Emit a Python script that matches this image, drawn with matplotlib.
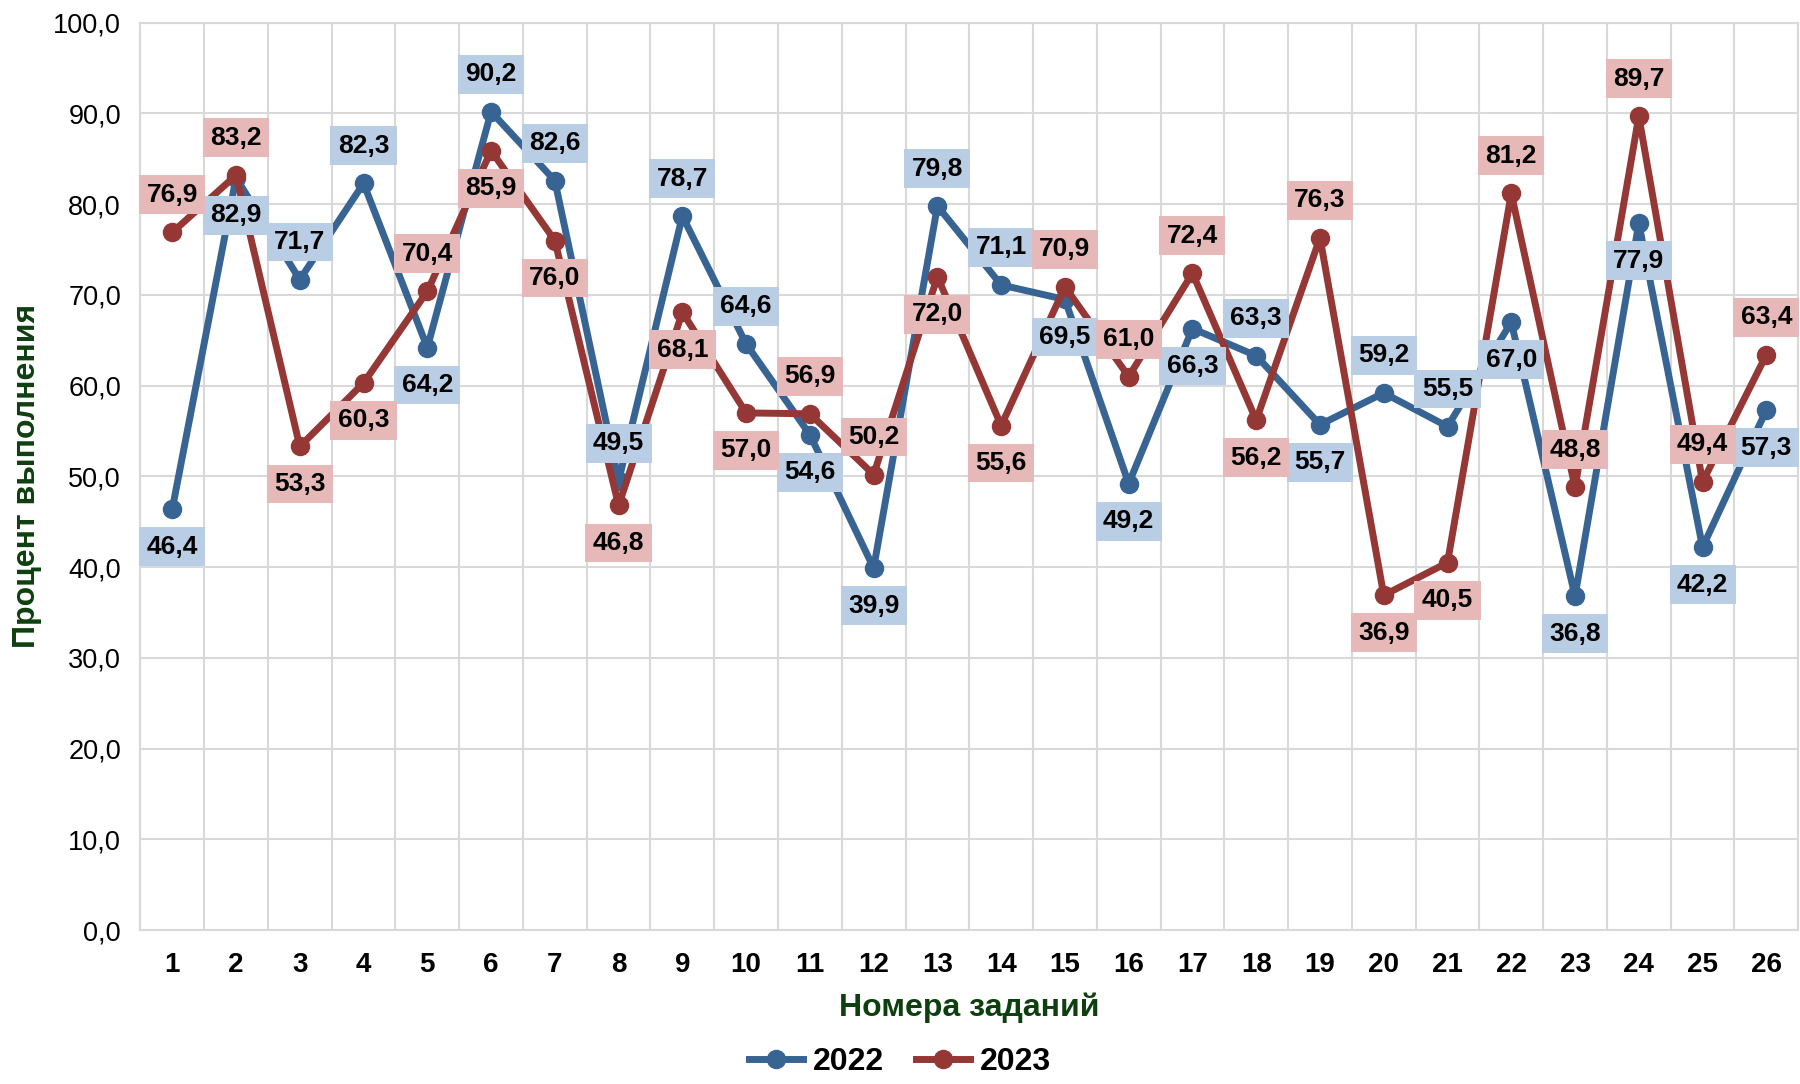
import matplotlib.pyplot as plt
import numpy as np

plt.rcParams['font.family'] = ['Liberation Sans', 'DejaVu Sans']

tasks = list(range(1, 27))
y2022 = [46.4, 82.9, 71.7, 82.3, 64.2, 90.2, 82.6, 49.5, 78.7, 64.6, 54.6, 39.9, 79.8,
         71.1, 69.5, 49.2, 66.3, 63.3, 55.7, 59.2, 55.5, 67.0, 36.8, 77.9, 42.2, 57.3]
y2023 = [76.9, 83.2, 53.3, 60.3, 70.4, 85.9, 76.0, 46.8, 68.1, 57.0, 56.9, 50.2, 72.0,
         55.6, 70.9, 61.0, 72.4, 56.2, 76.3, 36.9, 40.5, 81.2, 48.8, 89.7, 49.4, 63.4]
# label side: 1 = above, -1 = below
pos2022 = [-1, -1, 1, 1, -1, 1, 1, 1, 1, 1, -1, -1, 1,
           1, -1, -1, -1, 1, -1, 1, 1, -1, -1, -1, -1, -1]
pos2023 = [1, 1, -1, -1, 1, -1, -1, -1, -1, -1, 1, 1, -1,
           -1, 1, 1, 1, -1, 1, -1, -1, 1, 1, 1, 1, 1]

c22 = '#386494'
c23 = '#953735'
b22 = '#B9CDE5'
b23 = '#E6B9B8'
green = '#0E3F0E'

fig = plt.figure(figsize=(18, 10.84), dpi=100)
ax = fig.add_axes([0.078, 0.142, 0.921, 0.837])

ax.plot(tasks, y2022, '-o', color=c22, lw=5, ms=13, label='2022', zorder=3)
ax.plot(tasks, y2023, '-o', color=c23, lw=5, ms=13, label='2023', zorder=4)

def fmt(v):
    return f'{v:.1f}'.replace('.', ',')

for x, v, p in zip(tasks, y2022, pos2022):
    ax.annotate(fmt(v), (x, v), xytext=(0, 27 * p), textcoords='offset points',
                ha='center', va='center', fontsize=19, fontweight='bold', zorder=6,
                bbox=dict(boxstyle='square,pad=0.28', fc=b22, ec='none'))
for x, v, p in zip(tasks, y2023, pos2023):
    ax.annotate(fmt(v), (x, v), xytext=(0, 27 * p), textcoords='offset points',
                ha='center', va='center', fontsize=19, fontweight='bold', zorder=6,
                bbox=dict(boxstyle='square,pad=0.28', fc=b23, ec='none'))

ax.set_xlim(0.5, 26.5)
ax.set_ylim(0, 100)
ax.set_xticks(tasks)
ax.set_xticklabels([str(t) for t in tasks], fontsize=20, fontweight='bold')
ax.set_xticks(np.arange(0.5, 27, 1), minor=True)
yt = np.arange(0, 101, 10)
ax.set_yticks(yt)
ax.set_yticklabels([fmt(v) for v in yt], fontsize=19.5)
ax.tick_params(which='both', length=0)
ax.tick_params(axis='x', pad=16)
ax.tick_params(axis='y', pad=14)
ax.grid(True, axis='y', which='major', color='#D9D9D9', lw=1.5)
ax.grid(True, axis='x', which='minor', color='#D9D9D9', lw=1.5)
for s in ax.spines.values():
    s.set_color('#D9D9D9')
    s.set_linewidth(1.5)
ax.set_axisbelow(True)

ax.set_xlabel('Номера заданий', fontsize=23, fontweight='bold', color=green, labelpad=10)
ax.set_ylabel('Процент выполнения', fontsize=23, fontweight='bold', color=green, labelpad=8)

fig.legend(loc='lower center', bbox_to_anchor=(0.5, -0.02), ncol=2, frameon=False,
           prop={'size': 23, 'weight': 'bold'}, handlelength=1.7, columnspacing=1.0,
           handletextpad=0.3)

fig.savefig('out.png', dpi=100)
